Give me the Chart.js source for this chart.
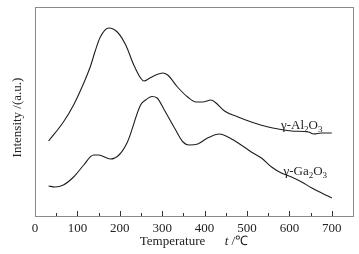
<!DOCTYPE html>
<html>
<head>
<meta charset="utf-8">
<script src="https://cdn.jsdelivr.net/npm/chart.js@4/dist/chart.umd.min.js"></script>
<style>
html,body{margin:0;padding:0;background:#fff;}
#wrap{width:359px;height:254px;position:relative;}
</style>
</head>
<body>
<div id="wrap"><canvas id="c" width="359" height="254"></canvas></div>
<script>
// Temperature (°C) and intensity (a.u.)
const alTemp = [32, 67, 91, 115, 131, 142, 154, 174, 194, 214, 233, 249, 257, 271, 285, 301, 313, 336, 360, 380, 396, 415, 427, 447, 479, 510, 532, 550, 574, 605, 645, 657, 676, 700];
const alInt  = [75, 94, 111, 133, 150, 165, 179, 188, 184, 171, 151, 138, 135, 138, 141, 143, 141, 129, 119, 114, 114, 116, 113, 105, 99, 94, 91, 89, 87, 85, 84, 82, 83, 83];
const gaTemp = [32, 47, 67, 91, 115, 138, 150, 178, 198, 218, 249, 261, 276, 288, 305, 329, 349, 364, 384, 407, 435, 455, 479, 500, 510, 534, 558, 581, 605, 629, 653, 676, 700];
const gaInt  = [30, 29, 31, 39, 51, 61, 61, 57, 61, 74, 111, 116, 119.5, 118, 106, 88, 74, 71, 72, 78, 82, 79, 73, 67, 64, 58, 49, 43, 39, 34, 28, 23, 18];
const xTickLabels = [0, 100, 200, 300, 400, 500, 600, 700];
const seriesNames = [["γ-Al", "2", "O", "3"], ["γ-Ga", "2", "O", "3"]];
const nameAnchors = [[580, 87.5], [586, 41]];

const toPts = (xs, ys) => xs.map((x, i) => ({x: x, y: ys[i]}));
const FONT = '"Liberation Serif", "Times New Roman", serif';

const decor = {
  id: 'decor',
  afterDraw(chart) {
    const ctx = chart.ctx, a = chart.chartArea, xs = chart.scales.x, ys = chart.scales.y;
    ctx.save();
    // frame
    ctx.strokeStyle = '#8a8a8a';
    ctx.lineWidth = 1;
    ctx.strokeRect(Math.round(a.left) + 0.5, Math.round(a.top) + 0.5, Math.round(a.right - a.left), Math.round(a.bottom - a.top));
    // inward ticks
    ctx.strokeStyle = '#333';
    xs.ticks.forEach(t => {
      const v = t.value;
      if (v <= xs.min || v > 700) return;
      const px = Math.round(xs.getPixelForValue(v)) + 0.5;
      const len = (v % 100 === 0) ? 5 : 3;
      ctx.beginPath();
      ctx.moveTo(px, a.bottom);
      ctx.lineTo(px, a.bottom - len);
      ctx.stroke();
    });
    ctx.fillStyle = '#222';
    // series names with subscripts
    seriesNames.forEach((parts, i) => {
      let x = xs.getPixelForValue(nameAnchors[i][0]);
      const y = ys.getPixelForValue(nameAnchors[i][1]);
      ctx.textBaseline = 'alphabetic';
      ctx.textAlign = 'left';
      parts.forEach((p, j) => {
        const sub = (j % 2 === 1);
        ctx.font = (sub ? '9px ' : '13px ') + FONT;
        ctx.fillText(p, x, y + (sub ? 3 : 0));
        x += ctx.measureText(p).width;
      });
    });
    // x title
    const segs = [["Temperature", 'normal'], ["      ", 'normal'], ["t", 'italic'], [" /℃", 'normal']];
    let total = 0;
    segs.forEach(s => { ctx.font = s[1] + ' 13px ' + FONT; total += ctx.measureText(s[0]).width; });
    let tx = (a.left + a.right) / 2 - total / 2;
    segs.forEach(s => { ctx.font = s[1] + ' 13px ' + FONT; ctx.fillText(s[0], tx, 245); tx += ctx.measureText(s[0]).width; });
    // y title
    ctx.translate(a.left - 14, (a.top + a.bottom) / 2 + 6);
    ctx.rotate(-Math.PI / 2);
    ctx.font = '13px ' + FONT;
    ctx.textAlign = 'center';
    ctx.textBaseline = 'alphabetic';
    ctx.fillText('Intensity /(a.u.)', 0, 0);
    ctx.restore();
  }
};

new Chart(document.getElementById('c'), {
  type: 'line',
  data: {
    datasets: [
      {label: 'γ-Al2O3', data: toPts(alTemp, alInt)},
      {label: 'γ-Ga2O3', data: toPts(gaTemp, gaInt)}
    ]
  },
  options: {
    responsive: false,
    animation: false,
    events: [],
    layout: {padding: {left: 35, right: 6, top: 7, bottom: 0}},
    elements: {
      line: {borderColor: '#1e1e1e', borderWidth: 1.1, cubicInterpolationMode: 'monotone', fill: false},
      point: {radius: 0}
    },
    plugins: {legend: {display: false}, tooltip: {enabled: false}},
    scales: {
      x: {
        type: 'linear', min: 0, max: 750,
        grid: {display: false, drawTicks: false},
        border: {display: false},
        ticks: {
          stepSize: 50, padding: 5, color: '#222', maxRotation: 0, autoSkip: false,
          font: {family: FONT, size: 13},
          callback: v => xTickLabels.includes(v) ? String(v) : ''
        },
        afterFit: s => { s.height = 38; }
      },
      y: {type: 'linear', min: 0, max: 209, display: false}
    }
  },
  plugins: [decor]
});
</script>
</body>
</html>
